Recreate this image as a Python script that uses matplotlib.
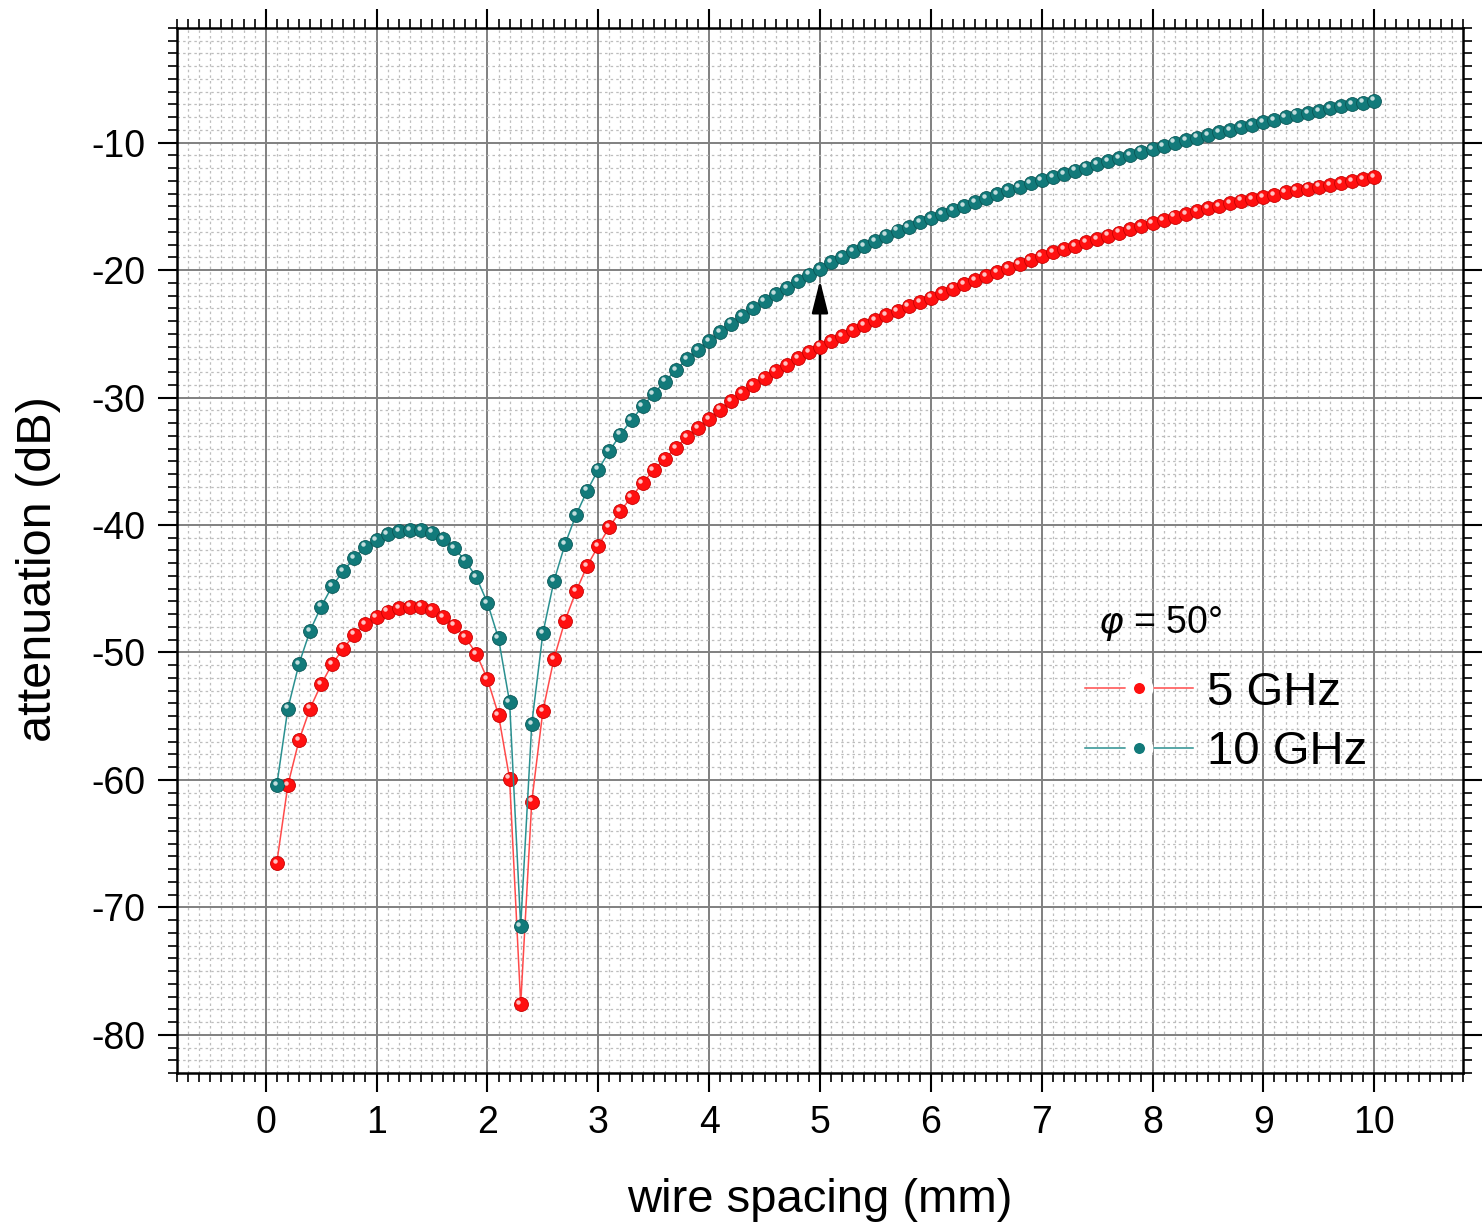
import numpy as np
import matplotlib
matplotlib.use("Agg")
import matplotlib.pyplot as plt
from matplotlib.ticker import MultipleLocator, FixedLocator
from matplotlib.transforms import offset_copy

plt.rcParams['font.family'] = ['Liberation Sans', 'DejaVu Sans']
plt.rcParams['mathtext.fontset'] = 'dejavusans'
plt.rcParams['axes.unicode_minus'] = False

# ---- data ----
spacing_mm = [round(0.1 * i, 1) for i in range(1, 101)]

att_5ghz = [
    -66.5, -60.4, -56.9, -54.4, -52.5, -50.9, -49.7, -48.6, -47.8, -47.2,
    -46.8, -46.5, -46.4, -46.4, -46.7, -47.2, -47.9, -48.8, -50.1, -52.1,
    -54.9, -59.9, -77.6, -61.7, -54.6, -50.5, -47.5, -45.2, -43.2, -41.65,
    -40.15, -38.9, -37.8, -36.7, -35.7, -34.8, -33.95, -33.1, -32.4, -31.7,
    -30.95, -30.3, -29.65, -29.05, -28.45, -27.95, -27.45, -26.9, -26.45, -26.0,
    -25.55, -25.15, -24.7, -24.3, -23.9, -23.55, -23.2, -22.85, -22.5, -22.15,
    -21.8, -21.45, -21.1, -20.8, -20.5, -20.15, -19.85, -19.55, -19.2, -18.9,
    -18.6, -18.35, -18.1, -17.8, -17.55, -17.3, -17.05, -16.8, -16.55, -16.3,
    -16.05, -15.8, -15.6, -15.35, -15.15, -14.95, -14.75, -14.55, -14.4, -14.25,
    -14.1, -13.9, -13.75, -13.6, -13.45, -13.3, -13.15, -13.0, -12.85, -12.7,
]

att_10ghz = [
    -60.4, -54.4, -50.9, -48.3, -46.4, -44.8, -43.6, -42.6, -41.7, -41.2,
    -40.7, -40.5, -40.4, -40.4, -40.6, -41.1, -41.8, -42.8, -44.1, -46.1,
    -48.9, -53.9, -71.5, -55.6, -48.5, -44.4, -41.5, -39.2, -37.3, -35.65,
    -34.2, -32.9, -31.75, -30.7, -29.7, -28.75, -27.85, -27.0, -26.25, -25.55,
    -24.85, -24.2, -23.6, -23.0, -22.45, -21.9, -21.4, -20.85, -20.35, -19.9,
    -19.4, -18.95, -18.5, -18.1, -17.7, -17.3, -16.9, -16.6, -16.25, -15.9,
    -15.6, -15.3, -14.95, -14.65, -14.35, -14.05, -13.75, -13.5, -13.2, -12.95,
    -12.7, -12.45, -12.2, -11.95, -11.7, -11.45, -11.2, -10.95, -10.7, -10.5,
    -10.25, -10.0, -9.8, -9.6, -9.4, -9.2, -9.0, -8.8, -8.6, -8.4,
    -8.2, -8.0, -7.8, -7.65, -7.5, -7.3, -7.15, -7.0, -6.85, -6.7,
]

series_labels = ['5 GHz', '10 GHz']
x_major_ticks = list(range(0, 11))
y_major_ticks = [-80, -70, -60, -50, -40, -30, -20, -10]
arrow_x = 5
arrow_tip = -20.8
annotation_text = r'$\varphi$ = 50°'

# ---- figure ----
fig = plt.figure(figsize=(14.84, 12.27), dpi=100)
ax = fig.add_axes([0.1193, 0.1255, 0.8665, 0.8517])

ax.set_xlim(-0.8, 10.8)
ax.set_ylim(-83, -1)

ax.xaxis.set_major_locator(FixedLocator(x_major_ticks))
ax.xaxis.set_minor_locator(MultipleLocator(0.1))
ax.yaxis.set_major_locator(FixedLocator(y_major_ticks))
ax.yaxis.set_minor_locator(MultipleLocator(1))

ax.grid(which='minor', color='#bdbdbd', linestyle=(0, (2, 2.5)), linewidth=0.9, zorder=0)
ax.grid(which='major', color='#808080', linestyle='-', linewidth=1.4, zorder=0.5)
ax.set_axisbelow(True)

ax.tick_params(which='both', direction='out', top=True, right=True,
               labeltop=False, labelright=False, color='black')
ax.tick_params(which='major', length=14, width=1.5, labelsize=27, pad=9)
ax.tick_params(which='minor', length=6.5, width=1.2)
for s in ax.spines.values():
    s.set_linewidth(1.8)
    s.set_color('black')

styles = [
    dict(line='#ff4a4a', face='#ff1010', edge='#c80000'),
    dict(line='#2a9090', face='#127a7a', edge='#0a5858'),
]
hl = offset_copy(ax.transData, fig=fig, x=-1.6, y=1.6, units='points')
for yv, lab, st in zip([att_5ghz, att_10ghz], series_labels, styles):
    ax.plot(spacing_mm, yv, '-', color=st['line'], lw=1.1, marker='o', ms=10,
            mfc=st['face'], mec=st['edge'], mew=0.6, label=lab, zorder=3)
    ax.plot(spacing_mm, yv, ls='none', marker='o', ms=3.2, mfc='white',
            mec='none', alpha=0.75, transform=hl, zorder=4, label='_nolegend_')

ax.annotate('', xy=(arrow_x, arrow_tip), xytext=(arrow_x, -83),
            arrowprops=dict(arrowstyle='-|>,head_length=1.0,head_width=0.25',
                            mutation_scale=20, color='black', lw=1.8,
                            shrinkA=0, shrinkB=0), zorder=2)

ax.text(7.51, -47.7, annotation_text, fontsize=27, ha='left', va='center')

leg = ax.legend(loc='upper left', bbox_to_anchor=(0.706, 0.385), frameon=False,
                fontsize=34, handlelength=2.3, handletextpad=0.28,
                labelspacing=0.33, borderpad=0, borderaxespad=0, numpoints=1)
for h in leg.legend_handles:
    h.set_markeredgecolor('white')
    h.set_markeredgewidth(6)
    h.set_markersize(14)

ax.set_xlabel('wire spacing (mm)', fontsize=34)
ax.set_ylabel('attenuation (dB)', fontsize=35)
ax.xaxis.set_label_coords(0.5, -0.10)
ax.yaxis.set_label_coords(-0.09, 0.482)

fig.savefig('out.png', dpi=100)
